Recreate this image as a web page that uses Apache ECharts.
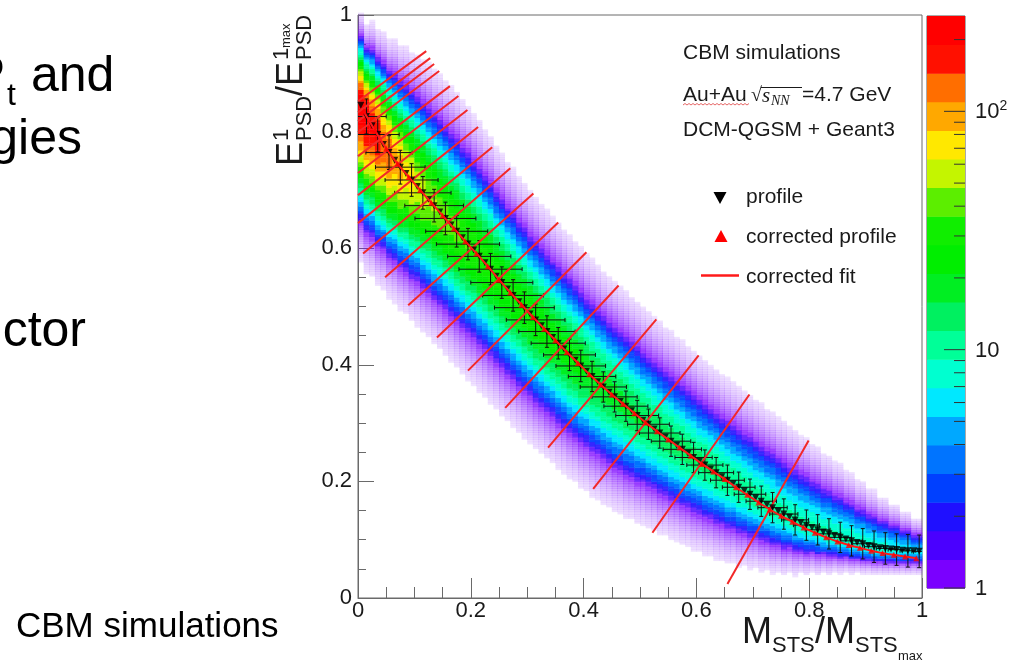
<!DOCTYPE html>
<html><head><meta charset="utf-8">
<script src="https://cdn.jsdelivr.net/npm/echarts@6/dist/echarts.min.js"></script>
<style>html,body{margin:0;padding:0;background:#fff;}#c{width:1016px;height:663px;}</style>
</head><body><div id="c"></div>
<script>
const FONT = "'Liberation Sans', Arial, Helvetica, sans-serif";
const SERIF = "'Liberation Serif', 'DejaVu Serif', serif";

// ---- black "profile" (bin centres, mean y) ----
const profileX = [0.005,0.015,0.025,0.035,0.045,0.055,0.065,0.075,0.085,0.095,
0.105,0.115,0.125,0.135,0.145,0.155,0.165,0.175,0.185,0.195,
0.205,0.215,0.225,0.235,0.245,0.255,0.265,0.275,0.285,0.295,
0.305,0.315,0.325,0.335,0.345,0.355,0.365,0.375,0.385,0.395,
0.405,0.415,0.425,0.435,0.445,0.455,0.465,0.475,0.485,0.495,
0.505,0.515,0.525,0.535,0.545,0.555,0.565,0.575,0.585,0.595,
0.605,0.615,0.625,0.635,0.645,0.655,0.665,0.675,0.685,0.695,
0.705,0.715,0.725,0.735,0.745,0.755,0.765,0.775,0.785,0.795,
0.805,0.815,0.825,0.835,0.845,0.855,0.865,0.875,0.885,0.895,
0.905,0.915,0.925,0.935,0.945,0.955,0.965,0.975,0.985,0.995];
const profileY = [0.845,0.826,0.810,0.795,0.778,0.764,0.751,0.739,0.728,0.717,
0.706,0.695,0.684,0.673,0.662,0.651,0.640,0.629,0.618,0.607,
0.597,0.586,0.575,0.564,0.552,0.541,0.530,0.519,0.508,0.498,
0.487,0.477,0.467,0.457,0.447,0.437,0.427,0.417,0.408,0.398,
0.389,0.380,0.371,0.362,0.353,0.345,0.337,0.329,0.321,0.313,
0.305,0.298,0.290,0.283,0.276,0.269,0.262,0.255,0.248,0.241,
0.234,0.228,0.221,0.215,0.208,0.202,0.196,0.190,0.184,0.178,
0.172,0.166,0.160,0.155,0.149,0.144,0.139,0.134,0.129,0.125,
0.121,0.117,0.113,0.110,0.107,0.104,0.101,0.098,0.095,0.093,
0.090,0.088,0.086,0.085,0.084,0.083,0.082,0.081,0.081,0.080];

// ---- profile error crosses (every second profile bin) ----
const crossErrX = [0.035,0.038,0.041,0.044,0.047,0.050,0.052,0.054,0.055,0.056,
0.056,0.056,0.055,0.054,0.053,0.052,0.050,0.048,0.046,0.044,
0.042,0.041,0.040,0.039,0.038,0.037,0.036,0.035,0.034,0.033,
0.032,0.031,0.030,0.029,0.028,0.027,0.026,0.025,0.024,0.023,
0.022,0.021,0.020,0.019,0.018,0.017,0.016,0.015,0.014,0.013];
const crossErrY = [0.030,0.030,0.029,0.029,0.028,0.028,0.028,0.028,0.027,0.027,
0.027,0.027,0.027,0.027,0.027,0.027,0.027,0.027,0.027,0.027,
0.026,0.026,0.026,0.026,0.026,0.026,0.026,0.026,0.026,0.026,
0.026,0.026,0.026,0.026,0.026,0.026,0.026,0.026,0.026,0.026,
0.026,0.026,0.026,0.026,0.026,0.027,0.027,0.027,0.028,0.028];

// ---- red "corrected profile" ----
const correctedX = [0.01,0.03,0.05,0.07,0.09,0.11,0.13,0.15,0.17,0.19,
0.21,0.23,0.25,0.27,0.29,0.31,0.33,0.35,0.37,0.39,
0.41,0.43,0.45,0.47,0.49,0.51,0.53,0.55,0.57,0.59,
0.61,0.63,0.65,0.67,0.69,0.71,0.73,0.75,0.77,0.79,
0.81,0.83,0.85,0.87,0.89,0.91,0.93,0.95,0.97,0.99];
const correctedY = [0.835,0.802,0.771,0.745,0.722,0.700,0.678,0.656,0.634,0.612,
0.591,0.569,0.546,0.524,0.503,0.482,0.462,0.442,0.422,0.403,
0.384,0.366,0.349,0.333,0.317,0.301,0.286,0.272,0.258,0.244,
0.230,0.217,0.204,0.190,0.177,0.164,0.152,0.141,0.131,0.121,
0.112,0.104,0.097,0.091,0.086,0.081,0.077,0.074,0.071,0.068];

// ---- 2D histogram band, per 0.02-wide block: peak counts and visible extent above / below the profile ----
const bandPeak = [250,200,140,100,75,60,50,44,40,37,
35,33,31,30,29,28,27,26,25,24,
21,20,19,18,17,16,15.5,15,14.5,14,
13.5,13,12.5,12,11.5,11,10.8,10.5,10.2,10,
10,9.8,9.6,9.4,9,8.5,8,7.5,7,6];
const bandEdgeUp = [0.16,0.18,0.195,0.21,0.22,0.228,0.234,0.238,0.24,0.238,
0.234,0.229,0.224,0.219,0.215,0.212,0.21,0.208,0.206,0.204,
0.202,0.2,0.199,0.198,0.197,0.195,0.193,0.19,0.187,0.184,
0.181,0.178,0.176,0.174,0.172,0.169,0.165,0.161,0.156,0.15,
0.143,0.135,0.127,0.118,0.108,0.098,0.088,0.078,0.067,0.056];
const bandEdgeDown = [0.27,0.26,0.25,0.245,0.242,0.24,0.238,0.236,0.235,0.234,
0.232,0.23,0.228,0.226,0.224,0.222,0.219,0.216,0.213,0.21,
0.207,0.203,0.198,0.193,0.187,0.18,0.175,0.17,0.165,0.16,
0.155,0.149,0.143,0.136,0.129,0.121,0.113,0.105,0.096,0.087,
0.078,0.07,0.063,0.057,0.052,0.048,0.045,0.043,0.041,0.04];

// ---- red slice lines ----
const sliceX0 = [0,0,0,0,0,0,0,0,0.009,0.048,0.089,0.140,0.195,0.261,0.337,0.417,0.522,0.655];
const sliceY0 = [0.852,0.833,0.818,0.799,0.758,0.729,0.691,0.643,0.591,0.550,0.502,0.447,0.390,0.326,0.258,0.187,0.112,0.024];
const sliceX1 = [0.121,0.128,0.135,0.144,0.163,0.178,0.194,0.213,0.238,0.270,0.311,0.355,0.405,0.462,0.529,0.604,0.694,0.799];
const sliceY1 = [0.938,0.926,0.916,0.904,0.878,0.861,0.837,0.808,0.773,0.737,0.694,0.644,0.593,0.536,0.478,0.416,0.349,0.270];

// ---- colour palette (log10 count levels) ----
const colorLevelLog = [0,0.12,0.24,0.36,0.48,0.6,0.72,0.84,0.96,1.08,1.2,1.32,1.44,1.56,1.68,1.8,1.92,2.04,2.16,2.28,2.4];
const paletteColors = ['#7a00ff','#4a00ff','#1f10ff','#0040ff','#0074ff','#00a8ff','#00e8ff','#00ffd0','#00ff98','#00f060',
'#00ee22','#00ee00','#10ee00','#5cee00','#c4f500','#ffe800','#ffa800','#ff6e00','#ff1000','#ff0000'];
const cbarMajorLog = [0,1,2];
const cbarMinorCounts = [2,3,4,5,6,7,8,9,20,30,40,50,60,70,80,90,200];
const xTicks = {min:0,max:1,interval:0.2};

// ---- build cells ----
const binHalf = 0.005, cellH = 0.004, shapeExp = 1.6, floorCount = 0.05;
const lowLevelAlpha = [0.72,0.82,0.9,0.95];
const cells = [];
for (let i = 0; i < profileX.length; i++) {
  const b = Math.floor(i / 2);
  const P = bandPeak[b];
  const f = Math.pow(Math.log(P / floorCount), 1 / shapeExp);
  const sUp = bandEdgeUp[b] / f, sDn = bandEdgeDown[b] / f;
  for (let r = 0; r < 275; r++) {
    const y0 = r * cellH, yc = y0 + cellH / 2;
    const d = yc - profileY[i];
    const s = d > 0 ? sUp : sDn;
    const e = P * Math.exp(-Math.pow(Math.abs(d) / s, shapeExp));
    if (e < floorCount) continue;
    cells.push([profileX[i] - binHalf, y0, profileX[i] + binHalf, y0 + cellH, e]);
  }
}
function hexRgb(h) { return [parseInt(h.substr(1,2),16), parseInt(h.substr(3,2),16), parseInt(h.substr(5,2),16)]; }
function colorFor(e) {
  const lg = Math.log10(e);
  if (lg < 0) {
    const c = hexRgb(paletteColors[0]);
    return 'rgba(' + c.join(',') + ',' + (0.65 * Math.pow(e, 0.6)).toFixed(3) + ')';
  }
  let lev = 0;
  for (let k = 0; k < paletteColors.length; k++) if (lg >= colorLevelLog[k]) lev = k;
  if (lev < lowLevelAlpha.length) {
    const c = hexRgb(paletteColors[lev]);
    return 'rgba(' + c.join(',') + ',' + lowLevelAlpha[lev] + ')';
  }
  return paletteColors[lev];
}
const crossData = [];
for (let k = 0; k < crossErrX.length; k++) {
  const i = 2 * k + 1;
  crossData.push([profileX[i], profileY[i], crossErrX[k], crossErrY[k]]);
}
const sliceData = sliceX0.map((x, k) => ({coords: [[x, sliceY0[k]], [sliceX1[k], sliceY1[k]]]}));
const profilePts = profileX.map((x, k) => [x, profileY[k]]);
const correctedPts = correctedX.map((x, k) => [x, correctedY[k]]);
const cbarData = paletteColors.map((c, k) => [colorLevelLog[k], colorLevelLog[k + 1], k]);
const cbarTickData = cbarMajorLog.map(v => [v, 21]).concat(cbarMinorCounts.map(c => [Math.log10(c), 11]));

const axisGray = '#6a6a6a';
const txt = (text, x, y, size, opts) => Object.assign({
  type: 'text', x, y, silent: true,
  style: Object.assign({text, font: size + 'px ' + FONT, fill: '#1a1a1a', textAlign: 'left', textVerticalAlign: 'middle', align: 'left', verticalAlign: 'middle'}, (opts && opts.style) || {})
}, (opts && opts.el) || {});

const chart = echarts.init(document.getElementById('c'), null, {renderer: 'canvas'});
chart.setOption({
  animation: false,
  backgroundColor: '#fff',
  grid: [
    {left: 358, right: 94, top: 15, bottom: 65, show: true, borderColor: axisGray, borderWidth: 1, backgroundColor: 'transparent'},
    {left: 927, top: 16, width: 38, height: 572, show: true, borderColor: '#555', borderWidth: 1}
  ],
  xAxis: [
    {gridIndex: 0, type: 'value', min: xTicks.min, max: xTicks.max, interval: xTicks.interval,
      axisLine: {lineStyle: {color: axisGray}}, splitLine: {show: false},
      axisTick: {inside: true, length: 20, lineStyle: {color: axisGray}},
      minorTick: {show: true, splitNumber: 4, length: 11, lineStyle: {color: axisGray}},
      axisLabel: {fontSize: 22, fontFamily: FONT, color: '#1a1a1a', margin: 2,
        formatter: v => (v === 0 ? '0' : v === 1 ? '1' : v.toFixed(1))}},
    {gridIndex: 1, type: 'value', min: 0, max: 1, show: false}
  ],
  yAxis: [
    {gridIndex: 0, type: 'value', min: xTicks.min, max: xTicks.max, interval: xTicks.interval,
      axisLine: {lineStyle: {color: axisGray}}, splitLine: {show: false},
      axisTick: {inside: true, length: 16, lineStyle: {color: axisGray}},
      minorTick: {show: true, splitNumber: 4, length: 8, lineStyle: {color: axisGray}},
      axisLabel: {fontSize: 22, fontFamily: FONT, color: '#1a1a1a', margin: 6,
        formatter: v => (v === 0 ? '0' : v === 1 ? '1' : v.toFixed(1))}},
    {gridIndex: 1, type: 'value', min: 0, max: 2.4, position: 'right',
      axisLine: {show: false}, splitLine: {show: false}, axisTick: {show: false},
      axisLabel: {customValues: cbarMajorLog, margin: 10, fontFamily: FONT, color: '#1a1a1a',
        formatter: v => (v === 0 ? '{b|1}' : v === 1 ? '{b|10}' : '{b|10}{s|2}'),
        rich: {b: {fontSize: 22, fontFamily: FONT, lineHeight: 24, verticalAlign: 'bottom'},
               s: {fontSize: 14, fontFamily: FONT, lineHeight: 14, verticalAlign: 'top', padding: [0, 0, 10, 0]}}}}
  ],
  series: [
    {type: 'custom', xAxisIndex: 0, yAxisIndex: 0, data: cells, clip: true, silent: true, z: 1,
      renderItem: (params, api) => {
        const p0 = api.coord([api.value(0), api.value(3)]);
        const p1 = api.coord([api.value(2), api.value(1)]);
        return {type: 'rect', shape: {x: p0[0], y: p0[1], width: p1[0] - p0[0] + 0.4, height: p1[1] - p0[1] + 0.4},
          style: {fill: colorFor(api.value(4))}};
      }},
    {type: 'custom', xAxisIndex: 0, yAxisIndex: 0, data: crossData, clip: true, silent: true, z: 3,
      renderItem: (params, api) => {
        const x = api.value(0), y = api.value(1), ex = api.value(2), ey = api.value(3);
        const l = api.coord([x - ex, y]), r = api.coord([x + ex, y]);
        const t = api.coord([x, y + ey]), b = api.coord([x, y - ey]);
        const st = {stroke: '#111', lineWidth: 1};
        const cap = 2;
        return {type: 'group', children: [
          {type: 'line', shape: {x1: l[0], y1: l[1], x2: r[0], y2: r[1]}, style: st},
          {type: 'line', shape: {x1: t[0], y1: t[1], x2: b[0], y2: b[1]}, style: st},
          {type: 'line', shape: {x1: l[0], y1: l[1] - cap, x2: l[0], y2: l[1] + cap}, style: st},
          {type: 'line', shape: {x1: r[0], y1: r[1] - cap, x2: r[0], y2: r[1] + cap}, style: st},
          {type: 'line', shape: {x1: t[0] - cap, y1: t[1], x2: t[0] + cap, y2: t[1]}, style: st},
          {type: 'line', shape: {x1: b[0] - cap, y1: b[1], x2: b[0] + cap, y2: b[1]}, style: st}
        ]};
      }},
    {type: 'lines', coordinateSystem: 'cartesian2d', xAxisIndex: 0, yAxisIndex: 0, data: sliceData, silent: true, z: 4,
      lineStyle: {color: '#f22828', width: 2, opacity: 1}},
    {type: 'scatter', name: 'profile', xAxisIndex: 0, yAxisIndex: 0, data: profilePts, symbol: 'triangle', symbolRotate: 180,
      symbolSize: 7, itemStyle: {color: '#000'}, silent: true, z: 5},
    {type: 'line', name: 'corrected fit', xAxisIndex: 0, yAxisIndex: 0, data: correctedPts, smooth: true, showSymbol: false,
      lineStyle: {color: '#ff1a1a', width: 2}, silent: true, z: 6},
    {type: 'scatter', name: 'corrected profile', xAxisIndex: 0, yAxisIndex: 0, data: correctedPts, symbol: 'triangle',
      symbolSize: 6, itemStyle: {color: '#ff0000'}, silent: true, z: 7},
    {type: 'custom', xAxisIndex: 1, yAxisIndex: 1, data: cbarData, silent: true, z: 1,
      renderItem: (params, api) => {
        const p0 = api.coord([0, api.value(1)]);
        const p1 = api.coord([1, api.value(0)]);
        return {type: 'rect', shape: {x: p0[0], y: p0[1], width: p1[0] - p0[0], height: p1[1] - p0[1] + 0.5},
          style: {fill: paletteColors[api.value(2)]}};
      }},
    {type: 'custom', xAxisIndex: 1, yAxisIndex: 1, data: cbarTickData, silent: true, z: 3,
      renderItem: (params, api) => {
        const p = api.coord([1, api.value(0)]);
        return {type: 'line', shape: {x1: p[0] - api.value(1), y1: p[1], x2: p[0], y2: p[1]}, style: {stroke: '#333', lineWidth: 1}};
      }}
  ],
  graphic: [
    // slide text fragments on the left
    txt('P', 5, 77, 50, {style: {textAlign: 'right', align: 'right', fill: '#000'}}),
    txt('t', 16, 96, 32, {style: {textAlign: 'right', align: 'right', fill: '#000'}}),
    txt('and', 31, 77, 50, {style: {fill: '#000'}}),
    txt('gies', 82, 140, 50, {style: {textAlign: 'right', align: 'right', fill: '#000'}}),
    txt('ctor', 86, 332, 50, {style: {textAlign: 'right', align: 'right', fill: '#000'}}),
    txt('CBM simulations', 16, 627, 35, {style: {fill: '#000'}}),
    // in-plot labels
    txt('CBM simulations', 683, 53.5, 21),
    txt('Au+Au ', 683, 95.3, 21),
    {type: 'polyline', silent: true, shape: {points: [[683,105],[685,103.5],[687,105],[689,103.5],[691,105],[693,103.5],[695,105],[697,103.5],[699,105],[701,103.5],[703,105],[705,103.5],[707,105],[709,103.5],[711,105],[713,103.5],[715,105],[717,103.5],[719,105],[721,103.5],[723,105],[725,103.5],[727,105],[729,103.5],[731,105],[733,103.5],[735,105],[737,103.5],[739,105],[741,103.5],[743,105],[745,103.5],[747,105],[749,103.5]]},
      style: {stroke: '#e04040', lineWidth: 0.8, fill: null}},
    txt('\u221A', 751, 96, 20, {style: {font: '20px ' + SERIF}}),
    {type: 'line', silent: true, shape: {x1: 761, y1: 87.5, x2: 802, y2: 87.5}, style: {stroke: '#1a1a1a', lineWidth: 1}},
    txt('s', 762, 96, 21, {style: {font: 'italic 21px ' + SERIF}}),
    txt('NN', 771, 101, 14, {style: {font: 'italic 14px ' + SERIF}}),
    txt('=4.7 GeV', 802, 95.3, 21),
    txt('DCM-QGSM + Geant3', 683, 130.5, 21),
    {type: 'polygon', silent: true, shape: {points: [[713.5,192],[726.5,192],[720,204]]}, style: {fill: '#000'}},
    txt('profile', 746, 197, 21),
    {type: 'polygon', silent: true, shape: {points: [[714.5,242],[727.5,242],[721,230]]}, style: {fill: '#ff0000'}},
    txt('corrected profile', 746, 237, 21),
    {type: 'line', silent: true, shape: {x1: 701, y1: 275.5, x2: 739, y2: 275.5}, style: {stroke: '#ff1a1a', lineWidth: 2.5}},
    txt('corrected fit', 746, 277, 21),
    // y axis title (rotated)
    {type: 'group', x: 304, y: 166, rotation: Math.PI / 2, silent: true, children: [
      txt('E', 0, -11.5, 36),
      txt('1', 25, -22, 22),
      txt('PSD', 25, 1, 22),
      txt('/E', 70, -11.5, 36),
      txt('1', 106, -22, 22),
      txt('max', 118, -18, 13),
      txt('PSD', 106, 1, 22)
    ]},
    // x axis title
    txt('M', 742, 633.5, 36),
    txt('STS', 772, 646, 22),
    txt('/M', 815, 633.5, 36),
    txt('STS', 855, 646, 22),
    txt('max', 898, 656, 13)
  ]
});
</script></body></html>
